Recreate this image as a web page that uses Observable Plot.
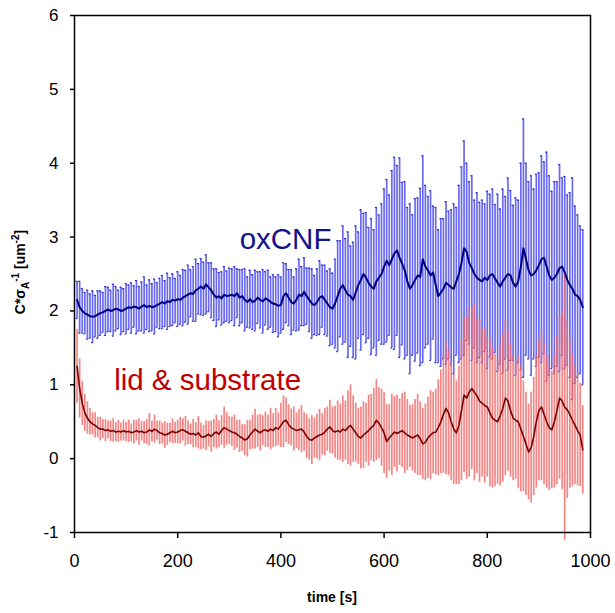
<!DOCTYPE html>
<html>
<head>
<meta charset="utf-8">
<script src="https://cdn.jsdelivr.net/npm/d3@7"></script>
<script src="https://cdn.jsdelivr.net/npm/@observablehq/plot@0.6"></script>
<style>
  html, body { margin: 0; padding: 0; background: #fff; }
  svg { display: block; }
</style>
</head>
<body>
<div id="chart"></div>
<script>
// ---- data (sampled every 5 s, t = 5 … 985) ----
const tStart = 5, tStep = 5;
const xTicks = [0, 200, 400, 600, 800, 1000];
const yTicks = [-1, 0, 1, 2, 3, 4, 5, 6];

const blueMean = [
  2.15, 2.05, 2.0, 1.97, 1.95, 1.93, 1.92, 1.93, 1.95, 1.97, 1.98, 2.0, 2.02, 2.0, 2.01, 2.03, 2.02, 2.0, 2.01, 2.03,
  2.05, 2.04, 2.06, 2.05, 2.03, 2.06, 2.08, 2.05, 2.07, 2.05, 2.06, 2.08, 2.1, 2.12, 2.1, 2.13, 2.12, 2.15, 2.14, 2.16,
  2.15, 2.18, 2.2, 2.22, 2.24, 2.23, 2.28, 2.3, 2.33, 2.3, 2.36, 2.32, 2.28, 2.22, 2.18, 2.2, 2.17, 2.22, 2.2, 2.21,
  2.22, 2.2, 2.24, 2.18, 2.2, 2.15, 2.12, 2.16, 2.12, 2.14, 2.18, 2.15, 2.13, 2.17, 2.15, 2.12, 2.1, 2.09, 2.07, 2.08,
  2.2, 2.24, 2.18, 2.12, 2.1, 2.15, 2.22, 2.2, 2.26, 2.2, 2.15, 2.1, 2.08, 2.12, 2.18, 2.2, 2.15, 2.1, 2.05, 2.03,
  2.1, 2.2, 2.3, 2.35, 2.28, 2.22, 2.2, 2.15, 2.25, 2.35, 2.42, 2.5, 2.45, 2.38, 2.33, 2.3, 2.4, 2.45, 2.5, 2.6,
  2.68, 2.62, 2.7, 2.78, 2.82, 2.72, 2.64, 2.55, 2.4, 2.3, 2.35, 2.42, 2.48, 2.46, 2.7, 2.6, 2.55, 2.48, 2.52, 2.35,
  2.2, 2.25, 2.3, 2.38, 2.35, 2.32, 2.3, 2.4, 2.5, 2.65, 2.85, 2.8, 2.65, 2.58, 2.5, 2.45, 2.42, 2.4, 2.45, 2.42,
  2.48, 2.5, 2.44, 2.38, 2.33, 2.4, 2.45, 2.5, 2.48, 2.38, 2.33, 2.4, 2.6, 2.85, 2.7, 2.55, 2.48, 2.5, 2.55, 2.62,
  2.7, 2.72, 2.6, 2.48, 2.42, 2.45, 2.5, 2.58, 2.6, 2.52, 2.42, 2.35, 2.3, 2.22, 2.2, 2.15, 2.05
];
const blueErr = [
  0.25, 0.35, 0.3, 0.28, 0.33, 0.3, 0.35, 0.28, 0.32, 0.3, 0.27, 0.33, 0.3, 0.28, 0.35, 0.3, 0.26, 0.32, 0.29, 0.34,
  0.3, 0.34, 0.28, 0.36, 0.3, 0.33, 0.38, 0.3, 0.35, 0.32, 0.37, 0.3, 0.34, 0.36, 0.31, 0.38, 0.33, 0.35, 0.3, 0.37,
  0.33, 0.38, 0.35, 0.4, 0.32, 0.37, 0.42, 0.34, 0.38, 0.36, 0.4, 0.33, 0.37, 0.35, 0.39, 0.32, 0.36, 0.38, 0.34, 0.37,
  0.35, 0.4, 0.33, 0.38, 0.36, 0.42, 0.34, 0.39, 0.37, 0.41, 0.35, 0.38, 0.43, 0.36, 0.4, 0.34, 0.39, 0.37, 0.42, 0.38,
  0.45, 0.4, 0.38, 0.44, 0.36, 0.42, 0.48, 0.4, 0.46, 0.38, 0.43, 0.47, 0.4, 0.45, 0.5, 0.42, 0.47, 0.44, 0.52, 0.48,
  0.6, 0.75, 0.65, 0.8, 0.7, 0.85, 0.68, 0.78, 0.9, 0.72, 0.95, 0.82, 0.88, 0.75, 0.92, 0.8, 1.0, 0.85, 0.95, 1.05,
  1.1, 0.95, 1.2, 1.3, 1.15, 1.35, 1.1, 1.2, 1.0, 1.15, 0.95, 1.1, 1.05, 1.2, 1.4, 1.1, 1.0, 1.15, 0.9, 1.05,
  0.9, 1.0, 0.95, 1.1, 1.0, 1.05, 1.15, 1.0, 1.2, 1.3, 1.45, 1.2, 1.1, 1.25, 1.0, 1.15, 1.05, 1.1, 1.0, 1.2,
  1.1, 1.15, 1.0, 1.2, 1.05, 1.25, 1.1, 1.3, 1.15, 1.05, 1.2, 1.1, 1.4, 1.75, 1.3, 1.2, 1.35, 1.15, 1.3, 1.25,
  1.4, 1.3, 1.55, 1.35, 1.2, 1.3, 1.25, 1.4, 1.2, 1.3, 1.15, 1.25, 1.5, 1.2, 1.1, 1.0, 1.05
];
const redMean = [
  1.25, 0.95, 0.75, 0.62, 0.55, 0.5, 0.47, 0.45, 0.42, 0.4, 0.4, 0.38, 0.39, 0.37, 0.38, 0.36, 0.37, 0.36, 0.38, 0.36,
  0.37, 0.35, 0.36, 0.38, 0.36, 0.37, 0.35, 0.36, 0.39, 0.37, 0.4, 0.38, 0.35, 0.34, 0.32, 0.33, 0.35, 0.37, 0.35, 0.36,
  0.38, 0.39, 0.37, 0.35, 0.33, 0.34, 0.32, 0.35, 0.3, 0.29, 0.31, 0.33, 0.3, 0.34, 0.36, 0.33, 0.38, 0.42, 0.4, 0.38,
  0.36, 0.35, 0.33, 0.3, 0.28, 0.25, 0.27, 0.32, 0.36, 0.4, 0.37, 0.35, 0.38, 0.39, 0.37, 0.4, 0.38, 0.42, 0.4, 0.45,
  0.5, 0.52, 0.46, 0.42, 0.4, 0.38, 0.39, 0.4, 0.36, 0.3, 0.26, 0.25, 0.28, 0.3, 0.32, 0.33, 0.36, 0.4, 0.43, 0.38,
  0.36, 0.38, 0.36, 0.4, 0.38, 0.42, 0.45, 0.4, 0.35, 0.3, 0.28, 0.32, 0.35, 0.38, 0.42, 0.45, 0.52, 0.48, 0.42, 0.35,
  0.23, 0.28, 0.32, 0.36, 0.34, 0.36, 0.38, 0.35, 0.32, 0.3, 0.28, 0.3, 0.32, 0.27, 0.2, 0.22, 0.28, 0.32, 0.35, 0.36,
  0.42, 0.5, 0.6, 0.68, 0.62, 0.5, 0.4, 0.35, 0.45, 0.65, 0.86, 0.82, 0.9, 0.95, 0.9, 0.85, 0.78, 0.75, 0.72, 0.7,
  0.62, 0.55, 0.52, 0.5, 0.58, 0.68, 0.82, 0.78, 0.65, 0.55, 0.52, 0.5, 0.4, 0.3, 0.2, 0.09, 0.15, 0.3, 0.5, 0.65,
  0.7, 0.6, 0.5, 0.42, 0.39, 0.5, 0.65, 0.82, 0.78, 0.7, 0.66, 0.6, 0.52, 0.45, 0.38, 0.32, 0.12
];
const redErr = [
  0.5, 0.4, 0.3, 0.25, 0.22, 0.18, 0.15, 0.17, 0.14, 0.16, 0.13, 0.15, 0.12, 0.14, 0.16, 0.13, 0.15, 0.12, 0.14, 0.13,
  0.15, 0.12, 0.16, 0.14, 0.18, 0.13, 0.15, 0.17, 0.22, 0.14, 0.19, 0.13, 0.16, 0.14, 0.18, 0.15, 0.13, 0.17, 0.14, 0.16,
  0.18, 0.15, 0.2, 0.16, 0.14, 0.19, 0.17, 0.22, 0.18, 0.16, 0.2, 0.17, 0.21, 0.19, 0.23, 0.18, 0.2, 0.28, 0.22, 0.19,
  0.2, 0.24, 0.19, 0.22, 0.18, 0.21, 0.25, 0.2, 0.23, 0.27, 0.22, 0.25, 0.2, 0.24, 0.22, 0.28, 0.23, 0.26, 0.22, 0.3,
  0.35, 0.3, 0.27, 0.25, 0.3, 0.24, 0.28, 0.32, 0.26, 0.3, 0.28, 0.33, 0.27, 0.3, 0.35, 0.28, 0.32, 0.3, 0.36, 0.32,
  0.35, 0.4, 0.38, 0.45, 0.4, 0.5, 0.55, 0.45, 0.4, 0.38, 0.42, 0.45, 0.4, 0.48, 0.45, 0.5, 0.55, 0.48, 0.52, 0.55,
  0.5, 0.45, 0.55, 0.48, 0.52, 0.45, 0.5, 0.55, 0.48, 0.42, 0.45, 0.5, 0.55, 0.5, 0.48, 0.52, 0.55, 0.6, 0.55, 0.58,
  0.65, 0.7, 0.8, 0.9, 0.85, 0.8, 0.75, 0.7, 0.8, 0.95, 1.05, 1.1, 1.15, 1.1, 1.2, 1.05, 1.1, 1.0, 1.05, 0.95,
  1.0, 0.95, 0.9, 0.85, 0.95, 1.0, 1.05, 0.95, 0.9, 0.85, 0.8, 0.9, 0.85, 0.75, 0.7, 0.65, 0.75, 0.8, 0.9, 0.95,
  1.0, 0.95, 0.9, 0.85, 0.8, 0.9, 1.0, 1.1, 1.2, 1.8, 1.2, 1.0, 0.9, 0.8, 0.75, 0.7, 0.6
];

const seriesLabels = [
  {text: "oxCNF", t: 409, v: 2.96, color: "#12128a"},
  {text: "lid & substrate", t: 258, v: 1.06, color: "#c00000"}
];

// ---- build tables ----
function rows(mean, err) {
  return mean.map((m, i) => ({t: tStart + tStep * i, m, lo: m - err[i], hi: m + err[i]}));
}
const blue = rows(blueMean, blueErr);
const red = rows(redMean, redErr);

const FONT = "'Liberation Sans', Arial, sans-serif";
const capHalf = 1.8;

const chart = Plot.plot({
  width: 615,
  height: 613,
  marginLeft: 74,
  marginRight: 25,
  marginTop: 15,
  marginBottom: 81,
  style: {fontFamily: FONT, background: "#fff", color: "#000"},
  x: {domain: [0, 1000]},
  y: {domain: [-1, 6]},
  marks: [
    // blue error bars + caps
    Plot.ruleX(blue, {x: "t", y1: "lo", y2: "hi", stroke: "#6a6af0", strokeWidth: 1.7}),
    Plot.ruleY(blue, {y: "hi", x1: d => d.t - capHalf, x2: d => d.t + capHalf, stroke: "#3030c8", strokeWidth: 1.3}),
    Plot.ruleY(blue, {y: "lo", x1: d => d.t - capHalf, x2: d => d.t + capHalf, stroke: "#3030c8", strokeWidth: 1.3}),
    // red error bars
    Plot.ruleX(red, {x: "t", y1: "lo", y2: "hi", stroke: "#f26666", strokeOpacity: 0.8, strokeWidth: 1.7}),
    // mean lines
    Plot.line(blue, {x: "t", y: "m", stroke: "#000080", strokeWidth: 2}),
    Plot.line(red, {x: "t", y: "m", stroke: "#780000", strokeWidth: 1.6}),
    // series labels
    Plot.text(seriesLabels, {x: "t", y: "v", text: "text", fill: "color", fontSize: 29.5, fontFamily: FONT}),
    // axes + frame
    Plot.axisX({ticks: xTicks, tickFormat: d => String(d), tickSize: 6, tickPadding: 16, fontSize: 18, label: null, stroke: "#000", strokeWidth: 1.5}),
    Plot.axisY({ticks: yTicks, tickFormat: d => String(d), tickSize: 4, tickPadding: 12, fontSize: 17, label: null, stroke: "#000", strokeWidth: 1.5}),
    Plot.frame({stroke: "#000", strokeWidth: 1.5})
  ]
});

const svg = d3.select(chart);
// x-axis title
svg.append("text")
  .attr("x", 332).attr("y", 602)
  .attr("text-anchor", "middle")
  .attr("font-family", FONT).attr("font-size", 14).attr("font-weight", "bold")
  .text("time [s]");
// y-axis title with sub/superscripts
const yt = svg.append("text")
  .attr("transform", "translate(25,272) rotate(-90)")
  .attr("text-anchor", "middle")
  .attr("font-family", FONT).attr("font-size", 14).attr("font-weight", "bold");
yt.append("tspan").text("C*σ");
yt.append("tspan").attr("font-size", 10).attr("dy", 4).text("A");
yt.append("tspan").attr("font-size", 10).attr("dy", -10).text("-1");
yt.append("tspan").attr("dy", 6).text(" [um");
yt.append("tspan").attr("font-size", 10).attr("dy", -6).text("-2");
yt.append("tspan").attr("dy", 6).text("]");

document.getElementById("chart").appendChild(chart);
</script>
</body>
</html>
